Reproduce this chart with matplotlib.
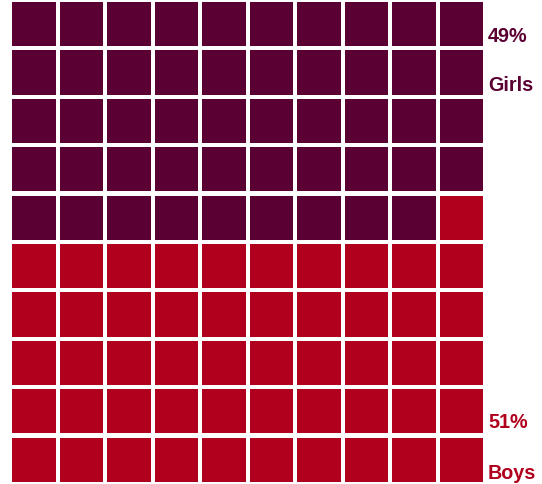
import numpy as np
import matplotlib
matplotlib.use("Agg")
import matplotlib.pyplot as plt

# --- Data ---
groups = ["Girls", "Boys"]
shares = [49, 51]
colors = ["#5b0032", "#b1001d"]

N_COLS = 10
N_ROWS = 10
CELL_W = 0.926  # fraction of a grid step filled by each square
CELL_H = 0.915

plt.rcParams["font.family"] = ["Liberation Sans", "DejaVu Sans"]

fig = plt.figure(figsize=(5.42, 4.85), dpi=100)
W, H = 542, 485
ax = fig.add_axes([12 / W, (H - 487) / H, 475 / W, 484 / H])

# Fill the grid row by row from the top-left corner
cell_colors = np.repeat(colors, shares)
idx = np.arange(N_COLS * N_ROWS)
cols = idx % N_COLS
rows = idx // N_COLS
ax.bar(cols, CELL_H, width=CELL_W, bottom=rows, align="edge",
       color=cell_colors, linewidth=0)

ax.set_xlim(0, N_COLS)
ax.set_ylim(N_ROWS, 0)
ax.axis("off")

# Labels on the right: girls at the top, boys at the bottom
label_x = 10.02
style = dict(fontsize=14.2, fontweight="bold", va="baseline", ha="left",
             clip_on=False)
ax.text(label_x, 0.81, f"{shares[0]}%", color=colors[0], **style)
ax.text(label_x, 1.81, groups[0], color=colors[0], **style)
ax.text(label_x, 8.79, f"{shares[1]}%", color=colors[1], **style)
ax.text(label_x, 9.83, groups[1], color=colors[1], **style)

fig.savefig("out.png", dpi=100)
